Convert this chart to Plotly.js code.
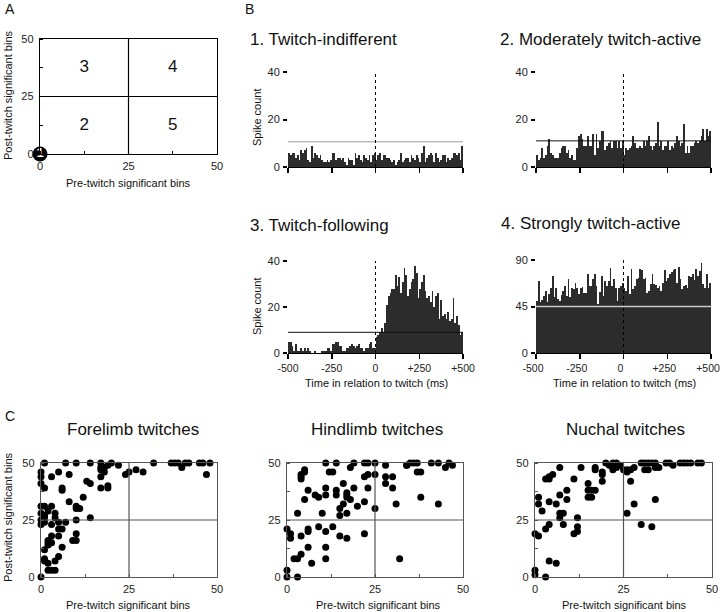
<!DOCTYPE html>
<html>
<head>
<meta charset="utf-8">
<script src="https://cdn.plot.ly/plotly-3.0.1.min.js"></script>
<style>html,body{margin:0;padding:0;background:#fff;}#chart{width:720px;height:612px;}</style>
</head>
<body>
<div id="chart"></div>
<script>
// ---------- DATA ----------
// Panel B: peri-twitch histograms, 100 bins of 10 ms from -500 to +500 ms
const binStart = -495;   // centre of first bin (ms)
const binWidth = 10;     // ms
const twitchIndifferent = [6,5,6,6,4,5,3,7,6,7, 8,3,2,9,4,6,5,4,5,3, 2,2,3,2,3,6,6,3,4,4, 3,4,2,1,4,3,3,1,6,4,
  5,3,2,5,4,3,5,2,5,6, 3,5,6,3,5,5,4,4,3,2, 3,1,2,3,6,2,3,4,4,2, 5,4,3,5,4,2,6,9,2,4,
  5,6,5,2,6,4,2,3,5,5, 2,4,3,4,6,6,5,6,3,9];
const moderatelyActive = [5,3,4,8,4,5,9,12,6,5, 4,4,4,6,8,9,9,6,7,4, 5,3,3,8,13,14,12,9,9,13, 9,9,14,5,14,8,11,15,15,7,
  9,10,11,8,11,11,8,11,8,11,
  5,8,7,8,9,13,10,8,8,9, 8,11,9,11,13,9,7,9,10,19, 9,11,7,9,9,11,7,9,8,10, 13,11,9,10,18,6,9,6,9,9,
  10,11,10,11,13,16,11,16,13,15];
const twitchFollowing = [5,5,3,1,4,1,1,2,1,2, 1,2,1,0,0,1,0,0,0,1, 1,1,2,2,1,4,4,5,5,3, 3,1,1,2,2,3,4,3,2,3,
  4,2,2,1,2,2,4,5,2,2,
  7,8,9,11,9,13,21,25,26,28, 28,34,29,33,26,31,37,34,25,28, 31,32,38,35,24,28,31,34,27,24, 25,22,27,20,25,26,15,23,16,17,
  15,18,14,15,24,13,16,12,8,9];
const stronglyActive = [50,70,49,51,55,60,49,57,63, 75,54,63,52,50,56,60,65,55,72, 54,63,62,68,63,57,63,64,58,
  58,76,65,65,72,76,65,47,59,75, 55,70,65,70,82,65,72,63,50,63, 65,68,63,60,75,57,81,62,65,72,
  73,81,80,72,73,58,60,67,76, 67,66,63,65,60,68,80,70,73,76, 78,80,81,68,83,72,62,65,66,
  63,75,74,76,71,81,75,79,87,67, 63,76,63,68];
const thresholds = [10.6, 11, 9, 45];
const histYMax = [40, 40, 40, 90];
const histYTicks = [[0,20,40],[0,20,40],[0,20,40],[0,45,90]];
const histTitles = ["1. Twitch-indifferent","2. Moderately twitch-active","3. Twitch-following","4. Strongly twitch-active"];
const timeTicks = [-500,-250,0,250,500];
const timeTickText = ["-500","-250","0","+250","+500"];

// Panel A: scheme
const schemeLabels = ["2","3","4","5"];
const schemeX = [12.5,12.5,37.5,37.5];
const schemeY = [12.5,37.5,37.5,12.5];

// Panel C: pre/post-twitch significant bins per neuron
const foreX = [1,7,10,14,17,20,22,32,37,38,39,41,42,45,46,48, 17,17,18,18,19,24,25,27,29,40,47, 17,17,19,19,
  0,0,0,1, 5,8,3, 6,6,13,14, 12,8,10,10,11,14, 0,1,2,3,0,1,1,0,0,1,4,4,
  3,5,7,5,6,3,5,10,10, 2,2,2,3,9,10,6,1,5,4,1,1,2,2,3,4,0];
const foreY = [50,50,50,50,50,50,49,50,50,50,50,50,50,50,50,50, 48,47,46,48,49,45,46,47,46,48,45, 44,39,39,40,
  46,44,41,39, 46,45,44, 39,38,42,41, 35,33,31,30,30,26, 31,31,29,31,28,27,26,25,23,24,28,26,
  23,24,24,21,21,18,18,19,25, 16,15,14,15,16,16,13,12,9,7,8,7,6,3,3,3,0];
const hindX = [11,14,19,22,23,25,34,35,36,37,41,43,46,47, 12,13,18,23,25,22,28,28,30,28,30,34,37,38,45,
  38,43,31,32, 5,5,4,4,4,5,6,8,9,11,11,14,14,16,17,17,17,18,19,20,22,23,25,15,16,15,17,10,3,
  0,1,1,4,6,6,9,11,13,15,17,22,2,3,4,6,7,11,11,0,0,3];
const hindY = [50,50,50,50,50,50,49,50,50,50,50,50,50,49, 46,46,48,45,45,44,49,44,44,41,39,49,46,46,48,
  35,32,32,8, 47,46,45,44,43,34,38,36,35,39,36,38,36,41,37,36,35,34,39,31,33,39,30,30,32,27,28,28,28,
  21,19,17,18,21,20,22,20,22,18,17,19,8,8,10,13,6,13,8,3,0,0];
const nuchX = [20,22,23,30,31,32,33,34,37,38,41,42,43,44,46,47, 21,22,22,23,24,25,26,26,27,28,31,32,34,35,39,
  19,19,19,17,17,27,28,34,26,30,33, 7,13,3,4,4,5,11,15,15,16,17,15,16,9,7,9,4,1,1,2,6,7,7,8,12,8,4,3,12,12,11,
  0,1,4,6,0,0,3];
const nuchY = [50,50,50,50,50,50,50,50,50,50,50,50,50,50,50,50, 49,48,47,48,49,47,46,47,47,48,47,47,48,48,49,
  46,45,42,48,47,42,32,34,28,23,22, 48,48,43,43,44,45,43,41,38,38,38,35,35,38,36,34,33,35,32,29,32,28,26,28,26,23,23,21,22,20,19,
  19,18,7,6,3,1,0];
const scatterTitles = ["Forelimb twitches","Hindlimb twitches","Nuchal twitches"];

// ---------- LAYOUT HELPERS ----------
const W = 720, H = 612;
const FONT = "Liberation Sans, Arial, Helvetica, sans-serif";
const px = p => p / W;
const py = p => 1 - p / H;
const dom = (a, b) => [px(a), px(b)];
const domY = (top, bottom) => [py(bottom), py(top)];

const traces = [];
const shapes = [];
const annotations = [];
const layout = {
  width: W, height: H, margin: {l:0, r:0, t:0, b:0},
  paper_bgcolor: "#fff", plot_bgcolor: "rgba(0,0,0,0)",
  showlegend: false, bargap: 0,
  font: {family: FONT, size: 11, color: "#111"}
};

function ann(text, x, y, opts) {
  annotations.push(Object.assign({
    text: text, xref: "paper", yref: "paper", x: px(x), y: py(y),
    showarrow: false, xanchor: "center", yanchor: "middle",
    font: {family: FONT, size: 11, color: "#111"}
  }, opts || {}));
}

// ---------- PANEL A ----------
layout.xaxis = {domain: dom(40,217), range: [0,50], tickvals: [0,25,50], ticks: "", showline: true, mirror: true,
  linecolor: "#000", linewidth: 1.2, showgrid: false, zeroline: false, anchor: "y",
  tickfont: {family: FONT, size: 11, color: "#222"}, ticklabelstandoff: 2,
  minor: {dtick: 12.5, tick0: 0, ticks: "inside", ticklen: 3, tickcolor: "#000", showgrid: false}};
layout.yaxis = {domain: domY(39,154), range: [0,50], tickvals: [0,25,50], ticks: "", showline: true, mirror: true,
  linecolor: "#000", linewidth: 1.2, showgrid: false, zeroline: false, anchor: "x",
  tickfont: {family: FONT, size: 11, color: "#222"}, ticklabelstandoff: 3,
  minor: {dtick: 12.5, tick0: 0, ticks: "inside", ticklen: 3, tickcolor: "#000", showgrid: false}};
shapes.push({type:"line", xref:"x", yref:"y", x0:25, x1:25, y0:0, y1:50, line:{color:"#000", width:1.2}});
shapes.push({type:"line", xref:"x", yref:"y", x0:0, x1:50, y0:25, y1:25, line:{color:"#000", width:1.2}});
traces.push({type:"scatter", mode:"text", x: schemeX, y: schemeY, text: schemeLabels, xaxis:"x", yaxis:"y",
  textfont:{family: FONT, size: 17, color:"#111"}, hoverinfo:"skip"});
traces.push({type:"scatter", mode:"markers+text", x:[0], y:[0], text:["<b>1</b>"], xaxis:"x", yaxis:"y", cliponaxis:false,
  marker:{size:15, color:"#000"}, textposition:"middle center",
  textfont:{family: FONT, size: 13, color:"#fff"}, hoverinfo:"skip"});
ann("A", 3, 9, {xanchor:"left", font:{family:FONT, size:14, color:"#111"}});
ann("Pre-twitch significant bins", 128, 183);
ann("Post-twitch significant bins", 8, 96, {textangle: -90});

// ---------- PANEL B ----------
ann("B", 243, 9, {xanchor:"left", font:{family:FONT, size:14, color:"#111"}});
const histData = [twitchIndifferent, moderatelyActive, twitchFollowing, stronglyActive];
const histDomX = [[288,463],[536,711],[288,463],[536,711]];
const histDomY = [[72,167],[72,167],[261,353],[260,353]];
const histTitlePos = [[248,40],[498,40],[248,225],[499,223]];
const threshColor = ["#9a9a9a","#111","#111","#c8c8c8"];
for (let i = 0; i < 4; i++) {
  const n = i + 2;
  const xa = "x" + n, ya = "y" + n;
  layout["xaxis" + n] = {domain: dom(histDomX[i][0], histDomX[i][1]), range: [-500,500], anchor: ya,
    tickvals: timeTicks, ticktext: timeTickText, showticklabels: i >= 2, ticklabeloverflow: "allow",
    ticklabelshift: i === 3 ? -3 : 0,
    ticks: "outside", ticklen: 5, tickwidth: 1.5, tickcolor: "#000",
    showline: true, linecolor: "#000", linewidth: 1, showgrid: false, zeroline: false,
    tickfont: {family: FONT, size: 10.5, color: "#222"}};
  layout["yaxis" + n] = {domain: domY(histDomY[i][0], histDomY[i][1]), range: [0, histYMax[i]], anchor: xa,
    tickvals: histYTicks[i], ticks: "outside", ticklen: 4, tickwidth: 2, tickcolor: "#000",
    showline: false, showgrid: false, zeroline: false, tickfont: {family: FONT, size: 11, color: "#222"}, ticklabelstandoff: 1};
  traces.push({type: "bar", x0: binStart, dx: binWidth, y: histData[i], xaxis: xa, yaxis: ya,
    marker: {color: "#2c2c2c", line: {width: 0}}, hoverinfo: "y"});
  shapes.push({type:"line", xref:xa, yref:ya, x0:-500, x1:500, y0:thresholds[i], y1:thresholds[i],
    layer:"above", line:{color: threshColor[i], width: i === 3 ? 1.6 : 1}});
  shapes.push({type:"line", xref:xa, yref:ya, x0:0, x1:0, y0:0, y1:histYMax[i],
    layer:"above", line:{color:"#000", width:1, dash:"dot"}});
  ann(histTitles[i], histTitlePos[i][0], histTitlePos[i][1], {xanchor:"left", font:{family:FONT, size:17, color:"#111"}});
}
ann("Spike count", 257, 118, {textangle: -90});
ann("Spike count", 257, 307, {textangle: -90});
ann("Time in relation to twitch (ms)", 376, 383);
ann("Time in relation to twitch (ms)", 624, 383);

// ---------- PANEL C ----------
ann("C", 3, 416, {xanchor:"left", font:{family:FONT, size:14, color:"#111"}});
const scX = [foreX, hindX, nuchX], scY = [foreY, hindY, nuchY];
const scDomX = [[41,217],[287,463],[535,712]];
const scTitleX = [133, 377, 625];
const scXTitleX = [128, 378, 624];
for (let i = 0; i < 3; i++) {
  const n = i + 6;
  const xa = "x" + n, ya = "y" + n;
  layout["xaxis" + n] = {domain: dom(scDomX[i][0], scDomX[i][1]), range: [0,50], anchor: ya,
    tickvals: [0,25,50], ticks: "", showline: true, mirror: true, linecolor: "#555", linewidth: 1.2,
    showgrid: false, zeroline: false, tickfont: {family: FONT, size: 11, color: "#222"}, ticklabelstandoff: 2,
    minor: {dtick: 12.5, tick0: 0, ticks: "inside", ticklen: 3, tickcolor: "#555", showgrid: false}};
  layout["yaxis" + n] = {domain: domY(463, 577), range: [0,50], anchor: xa,
    tickvals: [0,25,50], ticks: "", showline: true, mirror: true, linecolor: "#555", linewidth: 1.2,
    showgrid: false, zeroline: false, tickfont: {family: FONT, size: 11, color: "#222"}, ticklabelstandoff: 3,
    minor: {dtick: 12.5, tick0: 0, ticks: "inside", ticklen: 3, tickcolor: "#555", showgrid: false}};
  shapes.push({type:"line", xref:xa, yref:ya, x0:25, x1:25, y0:0, y1:50, line:{color:"#555", width:1.2}});
  shapes.push({type:"line", xref:xa, yref:ya, x0:0, x1:50, y0:25, y1:25, line:{color:"#555", width:1.2}});
  traces.push({type:"scatter", mode:"markers", x: scX[i], y: scY[i], xaxis: xa, yaxis: ya, cliponaxis: false,
    marker: {size: 7, color: "#000"}, hoverinfo: "x+y"});
  ann(scatterTitles[i], scTitleX[i], 430, {font:{family:FONT, size:17, color:"#111"}});
  ann("Pre-twitch significant bins", scXTitleX[i], 605);
}
ann("Post-twitch significant bins", 8, 518, {textangle: -90});

layout.shapes = shapes;
layout.annotations = annotations;
Plotly.newPlot("chart", traces, layout, {staticPlot: true, displayModeBar: false});
</script>
</body>
</html>
